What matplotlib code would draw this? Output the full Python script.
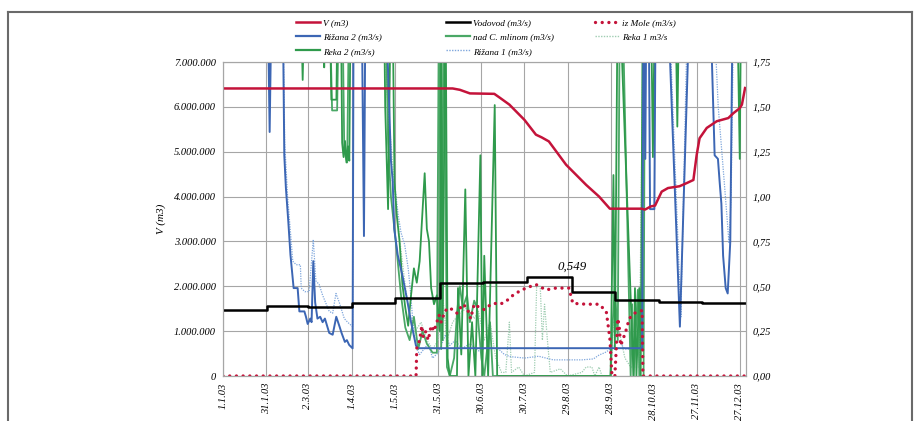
import matplotlib
matplotlib.use("Agg")
import matplotlib.pyplot as plt
from matplotlib.lines import Line2D
from matplotlib.ticker import FuncFormatter

plt.rcParams['font.family'] = ['Liberation Serif', 'DejaVu Serif']
plt.rcParams['font.style'] = 'italic'

TOP = 2.2  # off the chart (above 1,75)

# day of year 2003 (0 = 1.1.03)
tick_days = [0, 30, 59, 90, 120, 150, 180, 210, 240, 270, 300, 330, 360]
tick_labels = ['1.1.03', '31.1.03', '2.3.03', '1.4.03', '1.5.03', '31.5.03', '30.6.03',
               '30.7.03', '29.8.03', '28.9.03', '28.10.03', '27.11.03', '27.12.03']

# V (m3)
v_days = [0, 160, 165, 172, 189, 193, 199.5, 210, 218, 222, 227, 239, 253, 262, 269.5,
          291.6, 294, 298, 301, 305.6, 310, 318, 323, 327.7, 330, 332, 337, 344, 352,
          355.6, 360, 361.5, 363.7]
v_vals = [6.41e6, 6.41e6, 6.38e6, 6.3e6, 6.29e6, 6.2e6, 6.05e6, 5.71e6, 5.38e6, 5.32e6,
          5.23e6, 4.71e6, 4.26e6, 4.0e6, 3.73e6, 3.73e6, 3.71e6, 3.78e6, 3.8e6, 4.11e6,
          4.19e6, 4.23e6, 4.3e6, 4.37e6, 4.93e6, 5.3e6, 5.53e6, 5.68e6, 5.75e6, 5.86e6,
          5.97e6, 6.05e6, 6.42e6]

# Vodovod (m3/s), monthly steps
vod_days = [0, 31, 59, 90, 120, 151, 181, 212, 243, 273, 304, 334, 364]
vod_vals = [0.368, 0.392, 0.385, 0.405, 0.437, 0.517, 0.526, 0.549, 0.47, 0.424, 0.415,
            0.405, 0.405]

# iz Mole (m3/s)
mole_days = [0, 134.5, 135, 137, 138.5, 139.5, 141, 143, 145, 147, 149, 150.5, 152, 154.5,
             157, 160, 163, 167, 170, 172.5, 175, 179, 182, 185, 189, 193, 197, 202, 206,
             211, 218, 225, 232, 241, 243.7, 253, 262, 267, 269.5, 271, 273, 275, 276, 277,
             278.5, 281, 283, 286.7, 290, 292, 292.5, 364]
mole_vals = [0, 0, 0.155, 0.2, 0.28, 0.22, 0.25, 0.2, 0.28, 0.25, 0.3, 0.34, 0.3, 0.36,
             0.38, 0.37, 0.35, 0.4, 0.38, 0.32, 0.4, 0.38, 0.37, 0.39, 0.405, 0.4, 0.415,
             0.45, 0.47, 0.49, 0.51, 0.48, 0.49, 0.49, 0.405, 0.4, 0.4, 0.36, 0.21, 0, 0,
             0.32, 0.28, 0.17, 0.2, 0.26, 0.32, 0.35, 0.36, 0.365, 0, 0]

# Rižana 2 (m3/s)
riz2_days = [0, 31, 32.5, 34, 41.5, 42.7, 43.8, 45.5, 47, 49.2, 52, 53.2, 56.7, 57.8, 59,
             60.8, 61.7, 62.9, 64.2, 65.8, 67.7, 69.4, 71, 74, 76.4, 78.9, 81, 82.6, 84.9,
             86.3, 87.9, 90.3, 91, 96.5, 98.2, 99.3, 113, 117, 118.2, 119.3, 121.7, 125,
             128.6, 131, 134.4, 135.6, 292, 293, 294.2, 295, 296.5, 297.5, 300.5, 301.5,
             309.4, 318.3, 325.5, 339, 342.5, 344.8, 346, 347.2, 348.4, 350.2, 351.6,
             353.4, 355.2, 364]
riz2_vals = [TOP, TOP, 1.36, TOP, TOP, 1.23, 1.05, 0.86, 0.675, 0.49, 0.49, 0.36, 0.36,
             0.33, 0.29, 0.32, 0.3, 0.64, 0.41, 0.32, 0.33, 0.3, 0.32, 0.24, 0.23, 0.33,
             0.28, 0.24, 0.19, 0.2, 0.173, 0.154, TOP, TOP, 0.78, TOP, TOP, 1.2, 1.09, 0.82,
             0.675, 0.56, 0.41, 0.3, 0.17, 0.155, 0.155, TOP, 1.21, TOP, TOP, 0.93, 0.93,
             TOP, TOP, 0.275, TOP, TOP, 1.23, 1.21, 1.08, 0.96, 0.67, 0.49, 0.46, 0.75,
             TOP, TOP]

# Rižana 1 (m3/s)
riz1_days = [0, 31, 32.5, 34, 41.5, 43, 45, 47.5, 48.6, 51, 53.9, 54.5, 57, 60, 62.9, 64.7,
             67, 69.4, 74, 76.4, 78.7, 81, 84.5, 86.8, 90.3, 91, 113, 116, 119.5, 122, 124,
             126.6, 129, 130.4, 132.8, 135, 137, 140, 143, 146, 150, 155, 158, 162, 166,
             172, 178, 185, 192, 196, 200, 210, 220, 230, 250, 258, 262, 266, 270, 275,
             280, 286, 292, 293, 310, 319, 324, 341, 345, 348, 350, 352.5, 354, 356, 364]
riz1_vals = [TOP, TOP, 1.5, TOP, TOP, 1.3, 1.0, 0.75, 0.64, 0.62, 0.62, 0.49, 0.47, 0.47,
             0.76, 0.53, 0.51, 0.45, 0.36, 0.35, 0.46, 0.41, 0.32, 0.3, 0.275, TOP, TOP,
             1.1, 1.08, 0.9, 0.8, 0.73, 0.6, 0.49, 0.25, 0.15, 0.12, 0.15, 0.18, 0.1, 0.13,
             0.23, 0.17, 0.2, 0.15, 0.18, 0.14, 0.16, 0.15, 0.12, 0.108, 0.1, 0.11, 0.09,
             0.09, 0.095, 0.117, 0.13, 0.15, 0.2, 0.15, 0.15, 0.15, TOP, TOP, 0.33, TOP,
             TOP, 1.5, 1.2, 1.0, 0.74, 1.0, TOP, TOP]

# Reka 2 (m3/s)
reka2_days = [0, 54, 55.5, 57, 70, 70.5, 71, 74, 75.5, 79, 80, 82, 83, 84, 85, 86, 87, 88,
              89, 112, 113, 115, 117, 118, 119.5, 121, 123, 125, 127, 129, 131, 133, 135,
              137, 140.5, 142, 143.5, 145, 147, 149, 151, 152, 153, 155, 156.5, 158, 163,
              163.7, 166, 168.8, 171, 173.5, 175.8, 179.3, 180.7, 182, 184.7, 189.3, 191,
              270, 272, 273, 275, 276, 286, 287, 288, 290, 291, 292.5, 298, 299.5, 301,
              315, 316.5, 318, 358, 360, 361, 364]
reka2_vals = [TOP, TOP, 1.65, TOP, TOP, 1.72, TOP, TOP, 1.54, 1.54, TOP, TOP, 1.3, 1.22,
              1.31, 1.19, 1.28, 1.2, TOP, TOP, 1.5, 0.93, TOP, TOP, 1.08, 0.9, 0.75, 0.51,
              0.38, 0.28, 0.45, 0.6, 0.52, 0.64, 1.13, 0.82, 0.75, 0.49, 0.4, 0.45, 0.25,
              TOP, 0.2, TOP, 0.1, 0, 0, 0.49, 0.12, 1.04, 0, 0.3, 0, 1.23, 0, 0.67, 0, 1.51,
              0, 0, 1.12, 0.15, TOP, TOP, 0, 0.49, 0, 0.49, 0, TOP, TOP, 1.22, TOP, TOP,
              1.39, TOP, TOP, 1.21, TOP, TOP]

# nad C. mlinom (m3/s)
mlin_days = [0, 74, 76, 79.5, 81, 83, 84.5, 86.5, 88, 113, 115, 117, 119, 121, 124, 127,
             130, 133, 136, 139, 142, 146, 149, 150.5, 152, 154, 156, 158, 161, 163, 165,
             167, 170, 172, 175, 177, 180, 182, 186, 188, 192, 270, 271.5, 273, 275, 276.5,
             278, 284, 285, 286, 289, 290, 293, 294, 364]
mlin_vals = [TOP, TOP, 1.48, 1.48, TOP, TOP, 1.25, 1.19, TOP, TOP, 1.3, 1.0, 0.85, 0.7,
             0.45, 0.27, 0.2, 0.33, 0.15, 0.25, 0.18, 0.13, 0.13, TOP, 0.15, TOP, 0.05, 0,
             0.1, 0.35, 0.5, 0.38, 0.45, 0.3, 0.42, 0.38, 0.1, 0, 0.3, 0, 0, 0, 0.3, 0.5,
             0.2, TOP, TOP, 0, 0.4, 0, 0.48, 0, 0, TOP, TOP]

# Reka 1 m3/s
reka1_days = [0, 112, 114, 117, 120, 124, 127, 130, 134, 138, 142, 146, 150, 153, 156, 160,
              165, 170, 175, 178, 182, 186, 190, 194, 197, 199.5, 201, 206, 210, 217,
              218.5, 221, 222.5, 224, 226, 228, 235, 240, 250, 253, 257, 259, 262, 264,
              270, 272, 276, 280, 284, 290, 293, 364]
reka1_vals = [TOP, TOP, 1.6, 1.3, 1.0, 0.7, 0.5, 0.35, 0.25, 0.3, 0.2, 0.15, 0.2, 0.45,
              0.2, 0.3, 0.35, 0.38, 0.32, 0.36, 0.2, 0.3, 0.1, 0.02, 0.02, 0.3, 0.02, 0.05,
              0.0, 0.02, 0.5, 0.5, 0.2, 0.4, 0.2, 0.02, 0.04, 0.0, 0.02, 0.05, 0.05, 0.0,
              0.05, 0.0, 0.0, 0.3, 0.25, 0.1, 0.05, 0.05, TOP, TOP]

RED = '#c4133a'
BLUE = '#3c66b4'
GREEN = '#2f9a4c'
GREEN2 = '#4aa866'
LBLUE = '#7ea6dc'
LGREEN = '#9fcdb2'
GRID = '#a6a6a6'

fig = plt.figure(figsize=(9.17, 4.21), dpi=100)
ax = fig.add_axes([223 / 917, 1 - 376 / 421, 522.5 / 917, 314 / 421])
ax2 = ax.twinx()

ax.set_xlim(0, 364)
ax.set_ylim(0, 7e6)
ax2.set_ylim(0, 1.75)

ax.set_xticks(tick_days)
ax.set_xticklabels(tick_labels, rotation=90, fontsize=7.5)
ax.set_yticks([i * 1e6 for i in range(8)])
ax.yaxis.set_major_formatter(FuncFormatter(
    lambda v, p: '0' if v == 0 else f'{int(v):,}'.replace(',', '.')))
ax2.set_yticks([i * 0.25 for i in range(8)])
ax2.yaxis.set_major_formatter(FuncFormatter(lambda v, p: f'{v:.2f}'.replace('.', ',')))
ax.tick_params(length=0, labelsize=7.5, pad=5)
ax2.tick_params(length=0, labelsize=7.5, pad=5)
ax.grid(True, color=GRID, lw=0.8)
ax.set_axisbelow(True)
for a in (ax, ax2):
    for s in a.spines.values():
        s.set_color(GRID)
        s.set_linewidth(0.8)
ax.set_ylabel('V (m3)', fontsize=8, labelpad=6)

# flows on the secondary axis
ax2.plot(reka1_days, reka1_vals, color=LGREEN, lw=0.9, ls=(0, (1, 1)))
ax2.plot(riz1_days, riz1_vals, color=LBLUE, lw=0.9, ls=(0, (1, 1)))
ax2.plot(mlin_days, mlin_vals, color=GREEN2, lw=1.3)
ax2.plot(reka2_days, reka2_vals, color=GREEN, lw=1.3)
ax2.plot(riz2_days, riz2_vals, color=BLUE, lw=1.4)
ax2.plot(vod_days, vod_vals, color='black', lw=1.8, drawstyle='steps-post')
ax2.plot(mole_days, mole_vals, color=RED, lw=2.4, ls=(0, (0.01, 2.0)),
         dash_capstyle='round')
ax2.plot(v_days, [v / 4e6 for v in v_vals], color=RED, lw=1.8)
ax2.text(243, 0.607, '0,549', ha='center', va='center', fontsize=9.3)

# legend in three columns
h_v = Line2D([], [], color=RED, lw=1.8)
h_r2 = Line2D([], [], color=BLUE, lw=1.6)
h_k2 = Line2D([], [], color=GREEN, lw=1.6)
h_vod = Line2D([], [], color='black', lw=1.8)
h_ml = Line2D([], [], color=GREEN2, lw=1.6)
h_r1 = Line2D([], [], color=LBLUE, lw=1.0, ls=(0, (1, 1)))
h_mo = Line2D([], [], color=RED, lw=2.4, ls=(0, (0.01, 2.0)), dash_capstyle='round')
h_k1 = Line2D([], [], color=LGREEN, lw=1.0, ls=(0, (1, 1)))
cols = [([h_v, h_r2, h_k2], ['V (m3)', 'Rižana 2 (m3/s)', 'Reka 2 (m3/s)'], 296),
        ([h_vod, h_ml, h_r1], ['Vodovod (m3/s)', 'nad C. mlinom (m3/s)', 'Rižana 1 (m3/s)'], 446),
        ([h_mo, h_k1], ['iz Mole (m3/s)', 'Reka 1 m3/s'], 595)]
for hs, ls, x0 in cols:
    leg = fig.legend(hs, ls, loc='upper left', bbox_to_anchor=(x0 / 917, 1 - 19 / 421),
                     frameon=False, fontsize=6.7, handlelength=2.6, handletextpad=0.3,
                     labelspacing=0.6, borderpad=0, borderaxespad=0)

# outer frame
fc = '#6a6a6a'
fig.add_artist(Line2D([8 / 917, 912 / 917], [1 - 12 / 421] * 2, color=fc, lw=1.5))
fig.add_artist(Line2D([8 / 917] * 2, [0, 1 - 12 / 421], color=fc, lw=1.5))
fig.add_artist(Line2D([912 / 917] * 2, [0, 1 - 12 / 421], color=fc, lw=1.5))

fig.savefig('out.png', dpi=100)
